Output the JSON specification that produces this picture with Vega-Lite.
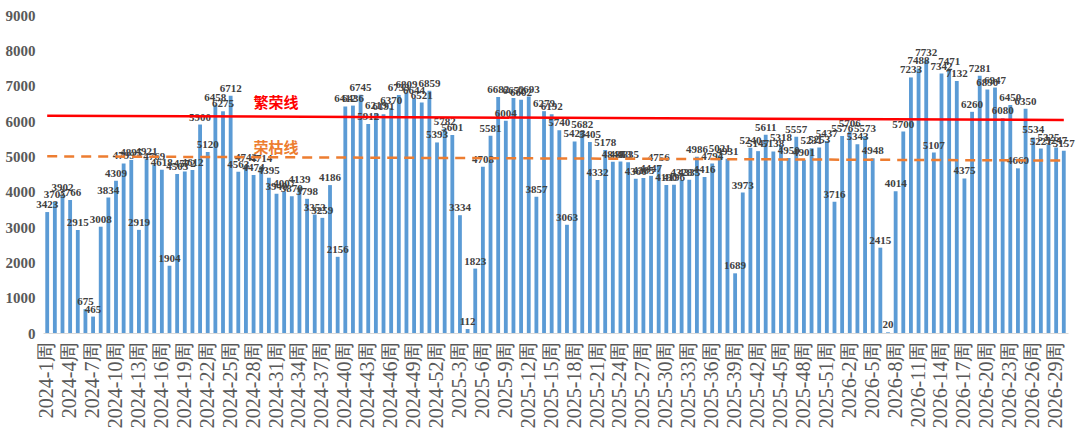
{
"$schema":"https://vega.github.io/schema/vega-lite/v6.json",
"width":1080,"height":430,
"autosize":{"type":"fit","contains":"padding"},
"padding":{"left":5,"right":5,"top":8,"bottom":2},
"config":{"view":{"stroke":null},"font":"Liberation Serif"},
"datasets":{
"bars":[
{"w":"2024-1周","v":3423},{"w":"2024-2周","v":3705},{"w":"2024-3周","v":3902},{"w":"2024-4周","v":3766},{"w":"2024-5周","v":2915},{"w":"2024-6周","v":675},{"w":"2024-7周","v":465},{"w":"2024-8周","v":3008},{"w":"2024-9周","v":3834},{"w":"2024-10周","v":4309},{"w":"2024-11周","v":4799},{"w":"2024-12周","v":4895},{"w":"2024-13周","v":2919},{"w":"2024-14周","v":4921},{"w":"2024-15周","v":4769},{"w":"2024-16周","v":4618},{"w":"2024-17周","v":1904},{"w":"2024-18周","v":4503},{"w":"2024-19周","v":4572},{"w":"2024-20周","v":4612},{"w":"2024-21周","v":5900},{"w":"2024-22周","v":5120},{"w":"2024-23周","v":6458},{"w":"2024-24周","v":6275},{"w":"2024-25周","v":6712},{"w":"2024-26周","v":4563},{"w":"2024-27周","v":4742},{"w":"2024-28周","v":4474},{"w":"2024-29周","v":4714},{"w":"2024-30周","v":4395},{"w":"2024-31周","v":3940},{"w":"2024-32周","v":4007},{"w":"2024-33周","v":3870},{"w":"2024-34周","v":4139},{"w":"2024-35周","v":3798},{"w":"2024-36周","v":3353},{"w":"2024-37周","v":3259},{"w":"2024-38周","v":4186},{"w":"2024-39周","v":2156},{"w":"2024-40周","v":6412},{"w":"2024-41周","v":6436},{"w":"2024-42周","v":6745},{"w":"2024-43周","v":5912},{"w":"2024-44周","v":6219},{"w":"2024-45周","v":6191},{"w":"2024-46周","v":6370},{"w":"2024-47周","v":6733},{"w":"2024-48周","v":6809},{"w":"2024-49周","v":6644},{"w":"2024-50周","v":6521},{"w":"2024-51周","v":6859},{"w":"2024-52周","v":5393},
{"w":"2025-1周","v":5782},{"w":"2025-2周","v":5601},{"w":"2025-3周","v":3334},{"w":"2025-4周","v":112},{"w":"2025-5周","v":1823},{"w":"2025-6周","v":4708},{"w":"2025-7周","v":5581},{"w":"2025-8周","v":6682},{"w":"2025-9周","v":6004},{"w":"2025-10周","v":6652},{"w":"2025-11周","v":6602},{"w":"2025-12周","v":6693},{"w":"2025-13周","v":3857},{"w":"2025-14周","v":6279},{"w":"2025-15周","v":6192},{"w":"2025-16周","v":5740},{"w":"2025-17周","v":3063},{"w":"2025-18周","v":5423},{"w":"2025-19周","v":5682},{"w":"2025-20周","v":5405},{"w":"2025-21周","v":4332},{"w":"2025-22周","v":5178},{"w":"2025-23周","v":4849},{"w":"2025-24周","v":4853},{"w":"2025-25周","v":4835},{"w":"2025-26周","v":4366},{"w":"2025-27周","v":4385},{"w":"2025-28周","v":4447},{"w":"2025-29周","v":4756},{"w":"2025-30周","v":4190},{"w":"2025-31周","v":4196},{"w":"2025-32周","v":4328},{"w":"2025-33周","v":4335},{"w":"2025-34周","v":4986},{"w":"2025-35周","v":4416},{"w":"2025-36周","v":4794},{"w":"2025-37周","v":5021},{"w":"2025-38周","v":4931},{"w":"2025-39周","v":1689},{"w":"2025-40周","v":3973},{"w":"2025-41周","v":5240},{"w":"2025-42周","v":5147},{"w":"2025-43周","v":5611},{"w":"2025-44周","v":5138},{"w":"2025-45周","v":5318},{"w":"2025-46周","v":4950},{"w":"2025-47周","v":5557},{"w":"2025-48周","v":4901},{"w":"2025-49周","v":5231},{"w":"2025-50周","v":5253},{"w":"2025-51周","v":5437},{"w":"2025-52周","v":3716},
{"w":"2026-1周","v":5576},{"w":"2026-2周","v":5706},{"w":"2026-3周","v":5343},{"w":"2026-4周","v":5573},{"w":"2026-5周","v":4948},{"w":"2026-6周","v":2415},{"w":"2026-7周","v":20},{"w":"2026-8周","v":4014},{"w":"2026-9周","v":5700},{"w":"2026-10周","v":7233},{"w":"2026-11周","v":7488},{"w":"2026-12周","v":7732},{"w":"2026-13周","v":5107},{"w":"2026-14周","v":7342},{"w":"2026-15周","v":7471},{"w":"2026-16周","v":7132},{"w":"2026-17周","v":4375},{"w":"2026-18周","v":6260},{"w":"2026-19周","v":7281},{"w":"2026-20周","v":6890},{"w":"2026-21周","v":6947},{"w":"2026-22周","v":6080},{"w":"2026-23周","v":6450},{"w":"2026-24周","v":4660},{"w":"2026-25周","v":6350},{"w":"2026-26周","v":5534},{"w":"2026-27周","v":5221},{"w":"2026-28周","v":5325},{"w":"2026-29周","v":5247},{"w":"2026-30周","v":5157}
],
"lines":[
{"w":"2024-1周","v":6150,"s":"繁荣线"},{"w":"2026-30周","v":6030,"s":"繁荣线"},
{"w":"2024-1周","v":5000,"s":"荣枯线"},{"w":"2026-30周","v":4880,"s":"荣枯线"}
],
"tags":[
{"w":"2024-28周","v":6500,"t":"繁荣线","c":"#FF0000"},
{"w":"2024-28周","v":5250,"t":"荣枯线","c":"#ED7D31"}
]
},
"encoding":{
"x":{"field":"w","type":"nominal","sort":null,
"axis":{"title":null,"labelAngle":-90,"labelFont":"Liberation Serif","labelFontSize":20,"labelLimit":200,"labelColor":"#595959","labelPadding":8,"ticks":false,"domainColor":"#D9D9D9",
"labelExpr":"((parseInt(slice(datum.label,0,4))-2024)*52+parseInt(slice(datum.label,5))-1)%3==0 ? datum.label : ''"},
"scale":{"paddingInner":0.5,"paddingOuter":0.3}},
"y":{"field":"v","type":"quantitative",
"scale":{"domain":[0,9000]},
"axis":{"title":null,"grid":false,"domain":false,"ticks":false,"tickCount":9,"labelFont":"Liberation Serif","labelFontWeight":"bold","labelFontSize":15,"labelColor":"#595959","format":"d","labelPadding":8}}
},
"layer":[
{"data":{"name":"bars"},"mark":{"type":"bar","color":"#5B9BD5"}},
{"data":{"name":"bars"},"mark":{"type":"text","dy":-7,"font":"Liberation Serif","fontWeight":"bold","fontSize":11,"color":"#404040"},"encoding":{"text":{"field":"v"}}},
{"data":{"name":"lines"},"transform":[{"filter":"datum.s=='繁荣线'"}],"mark":{"type":"line","color":"#FF0000","strokeWidth":2.5},"encoding":{}},
{"data":{"name":"lines"},"transform":[{"filter":"datum.s=='荣枯线'"}],"mark":{"type":"line","color":"#ED7D31","strokeWidth":2.5,"strokeDash":[10,7]},"encoding":{}},
{"data":{"name":"tags"},"mark":{"type":"text","font":"Noto Sans CJK SC","fontSize":15,"fontWeight":"bold","align":"left"},"encoding":{"text":{"field":"t"},"color":{"field":"c","type":"nominal","scale":null}}}
]
}
